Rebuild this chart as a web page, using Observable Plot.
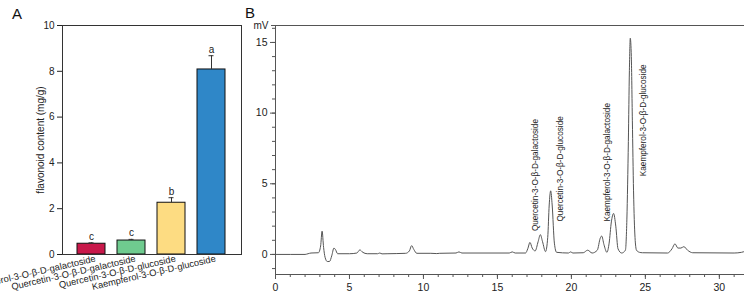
<!DOCTYPE html>
<html><head><meta charset="utf-8">
<script src="https://cdn.jsdelivr.net/npm/d3@7"></script>
<script src="https://cdn.jsdelivr.net/npm/@observablehq/plot@0.6"></script>
<style>
body{margin:0;background:#fff;font-family:"Liberation Sans",Arial,sans-serif;}
#wrap{position:relative;width:744px;height:298px;overflow:hidden;background:#fff}
.lab{position:absolute;font-size:15px;color:#111;line-height:1}
#a,#b{position:absolute;top:0}
#a{left:0}
#b{left:240px}
</style></head><body>
<div id="wrap"><div id="a"></div><div id="b"></div>
<div class="lab" style="left:12px;top:6px">A</div>
<div class="lab" style="left:245px;top:5px">B</div></div>
<script>
// ---------- Panel A data ----------
const compounds = ["Kaempferol-3-O-β-D-galactoside","Quercetin-3-O-β-D-galactoside","Quercetin-3-O-β-D-glucoside","Kaempferol-3-O-β-D-glucoside"];
const contents = [0.47, 0.61, 2.26, 8.08];
const errors = [0.04, 0.05, 0.22, 0.6];
const letters = ["c", "c", "b", "a"];
const barColors = ["#c8184a", "#6fcb8f", "#fddc82", "#2f87c8"];
const yTicksA = [0, 2, 4, 6, 8, 10];
const yDomainA = [0, 10];
const yLabelA = "flavonoid content (mg/g)";

// ---------- Panel B data ----------
const rtMinutes = [0, 2.0, 2.2, 2.4, 2.9, 3.05, 3.15, 3.25, 3.35, 3.5, 3.65, 3.8, 3.95, 4.05, 4.2, 5.0, 5.5, 5.7, 5.9, 6.2, 6.9, 7.05, 7.2, 7.6, 8.8, 9.05, 9.2, 9.35, 9.55, 10.5, 10.9, 11.1, 12.2, 12.4, 12.6, 15.8, 16.0, 16.2, 16.9, 17.05, 17.2, 17.35, 17.55, 17.75, 17.9, 18.05, 18.25, 18.4, 18.5, 18.6, 18.7, 18.85, 19.0, 19.8, 19.95, 20.1, 20.8, 21.1, 21.4, 21.75, 21.95, 22.05, 22.2, 22.4, 22.55, 22.7, 22.85, 23.0, 23.15, 23.4, 23.65, 23.75, 23.85, 23.92, 23.98, 24.05, 24.12, 24.2, 24.3, 24.4, 24.6, 24.8, 26.5, 26.8, 27.0, 27.2, 27.4, 27.6, 27.85, 28.2, 31.0, 31.5, 31.8];
const signalMV = [0, 0, 0.05, 0.1, 0.12, 0.6, 1.65, 0.5, -0.2, -0.5, -0.5, -0.1, 0.45, 0.35, 0.05, 0.05, 0.1, 0.32, 0.15, 0.05, 0.05, 0.1, 0.04, 0.05, 0.08, 0.25, 0.62, 0.35, 0.08, 0.08, 0.06, 0.08, 0.1, 0.18, 0.1, 0.1, 0.18, 0.1, 0.1, 0.4, 0.85, 0.45, 0.25, 0.9, 1.4, 0.9, 0.2, 1.2, 3.5, 4.5, 3.5, 0.8, 0.15, 0.1, 0.18, 0.1, 0.12, 0.3, 0.1, 0.3, 1.15, 1.3, 0.7, 0.15, 0.8, 2.3, 2.9, 2.0, 0.4, 0.1, 0.3, 2.5, 8.0, 13.0, 15.3, 14.0, 9.5, 4.5, 1.2, 0.3, 0.15, 0.12, 0.1, 0.4, 0.75, 0.45, 0.45, 0.55, 0.3, 0.12, 0.1, 0.15, 0.25];
const peakNames = ["Quercetin-3-O-β-D-galactoside","Quercetin-3-O-β-D-glucoside","Kaempferol-3-O-β-D-galactoside","Kaempferol-3-O-β-D-glucoside"];
const peakLabelRT = [17.56, 19.24, 22.4, 24.87];
const peakLabelMV = [1.65, 2.33, 2.33, 5.54];
const xDomainB = [0, 31.7];
const yDomainB = [-1.42, 16.2];
const xMajorB = [0, 5, 10, 15, 20, 25, 30];
const yMajorB = [0, 5, 10, 15];
const yUnitB = "mV";

const FONT = "'Liberation Sans', Arial, sans-serif";

// ---------- Panel A ----------
const barsData = compounds.map((c, i) => ({c, v: contents[i], e: errors[i], l: letters[i]}));
const A = Plot.plot({
  width: 244, height: 298,
  marginLeft: 62, marginRight: 3, marginTop: 25, marginBottom: 44,
  style: {fontFamily: FONT, fontSize: "10px", color: "#222", background: "transparent"},
  x: {domain: compounds, paddingInner: 0.29, paddingOuter: 0.33, label: null, axis: null},
  y: {domain: yDomainA, label: null, axis: null},
  color: {domain: compounds, range: barColors},
  marks: [
    Plot.barY(barsData, {x: "c", y: "v", fill: "c", stroke: "#111", strokeWidth: 1}),
    Plot.ruleX(barsData, {x: "c", y1: "v", y2: d => d.v + d.e, stroke: "#333"}),
    Plot.tickY(barsData, {x: "c", y: d => d.v + d.e, insetLeft: 11.5, insetRight: 11.5, stroke: "#333"}),
    Plot.text(barsData, {x: "c", y: d => d.v + d.e, text: "l", dy: -3, lineAnchor: "bottom", fontSize: 10, fill: "#222"}),
    Plot.axisY({ticks: yTicksA, tickSize: 5, tickPadding: 3, label: null, fontSize: 10}),
    Plot.axisX({tickSize: 0, tickRotate: -13, tickPadding: 4, fontSize: 9.3, label: null, dx: 4}),
    Plot.text([yLabelA], {text: d => d, frameAnchor: "left", rotate: -90, dx: -22, textAnchor: "middle", fontSize: 10, fill: "#222"}),
    Plot.frame({stroke: "#333"})
  ]
});
document.getElementById("a").append(A);

// ---------- Panel B ----------
const chrom = rtMinutes.map((t, i) => ({t, s: signalMV[i]}));
const labels = peakNames.map((n, i) => ({n, x: peakLabelRT[i], y: peakLabelMV[i]}));
const B = Plot.plot({
  width: 504, height: 298,
  marginLeft: 35, marginRight: 0, marginTop: 25, marginBottom: 24,
  style: {fontFamily: FONT, fontSize: "10px", color: "#222", background: "transparent"},
  x: {domain: xDomainB, label: null, axis: null},
  y: {domain: yDomainB, label: null, axis: null},
  marks: [
    Plot.ruleY([yDomainB[1]], {stroke: "#555"}),
    Plot.ruleY([yDomainB[0]], {stroke: "#555"}),
    Plot.ruleX([xDomainB[0]], {stroke: "#555"}),
    Plot.line(chrom, {x: "t", y: "s", stroke: "#555", strokeWidth: 1, curve: "monotone-x", clip: true}),
    Plot.axisX({ticks: d3.range(0, 32), tickSize: 3, tickFormat: () => "", stroke: "#555"}),
    Plot.axisX({ticks: xMajorB, tickSize: 5, tickPadding: 4, fontSize: 10.5, tickFormat: d => d, stroke: "#555"}),
    Plot.axisY({ticks: d3.range(-1, 17), tickSize: 3, tickFormat: () => "", stroke: "#555"}),
    Plot.axisY({ticks: yMajorB, tickSize: 5, tickPadding: 3, fontSize: 10.5, tickFormat: d => d, stroke: "#555"}),
    Plot.axisY({ticks: [yDomainB[1]], tickSize: 4, tickPadding: 3, fontSize: 10, tickFormat: () => yUnitB, stroke: "#555"}),
    Plot.text(labels, {x: "x", y: "y", text: "n", rotate: -90, textAnchor: "start", fontSize: 8.2, fill: "#222"})
  ]
});
document.getElementById("b").append(B);
</script>
</body></html>
